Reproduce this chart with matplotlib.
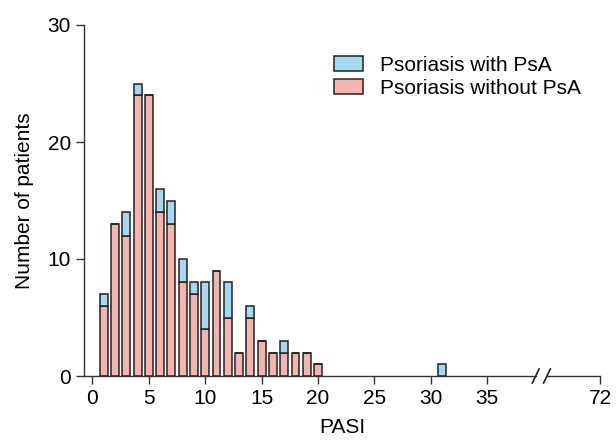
import matplotlib
matplotlib.use("Agg")
import matplotlib.pyplot as plt
import numpy as np

plt.rcParams['font.family'] = ['Liberation Sans', 'DejaVu Sans']

pasi = [1, 2, 3, 4, 5, 6, 7, 8, 9, 10, 11, 12, 13, 14, 15, 16, 17, 18, 19, 20, 31]
without_psa = [6, 13, 12, 24, 24, 14, 13, 8, 7, 4, 9, 5, 2, 5, 3, 2, 2, 2, 2, 1, 0]
with_psa = [1, 0, 2, 1, 0, 2, 2, 2, 1, 4, 0, 3, 0, 1, 0, 0, 1, 0, 0, 0, 1]
xtick_vals = [0, 5, 10, 15, 20, 25, 30, 35, 45]
xtick_labels = ['0', '5', '10', '15', '20', '25', '30', '35', '72']

blue = '#a6d8f2'
red = '#f5b4ae'
edge = '#222222'
FS = 15

fig = plt.figure(figsize=(6.16, 4.41), dpi=100)
ax = fig.add_axes([84/616, (441-376)/441, (600-84)/616, (376-25)/441])

ax.bar(pasi, without_psa, width=0.7, color=red, edgecolor=edge, linewidth=1.1,
       label='Psoriasis without PsA')
ax.bar(pasi, with_psa, width=0.7, bottom=without_psa, color=blue, edgecolor=edge,
       linewidth=1.1, label='Psoriasis with PsA')

xmin, xmax = -0.75, 45
ax.set_xlim(xmin, xmax)
ax.set_ylim(0, 30)
ax.set_yticks([0, 10, 20, 30])
ax.set_xticks(xtick_vals)
ax.set_xticklabels(xtick_labels)
ax.tick_params(axis='both', labelsize=FS, direction='out', length=5.5, width=1,
               color='#333333', pad=4)
for s in ['top', 'right', 'bottom']:
    ax.spines[s].set_visible(False)
ax.spines['left'].set_linewidth(1)
ax.spines['left'].set_color('#333333')

# broken x axis line
b1, b2 = 39.3, 40.3
ax.plot([xmin, b1], [0, 0], color='#333333', lw=1, clip_on=False, zorder=0.5)
ax.plot([b2, xmax], [0, 0], color='#333333', lw=1, clip_on=False, zorder=0.5)
for bx in [b1, b2]:
    ax.plot([bx - 0.3, bx + 0.3], [-0.6, 0.6], color='#222222', lw=1.2, clip_on=False)

ax.set_xlabel('PASI', fontsize=FS, labelpad=7)
ax.set_ylabel('Number of patients', fontsize=FS, labelpad=10)

handles, labels = ax.get_legend_handles_labels()
ax.legend(handles[::-1], labels[::-1], loc='upper left', bbox_to_anchor=(0.485, 0.913),
          frameon=False, fontsize=FS, handlelength=1.4, handleheight=0.7,
          handletextpad=0.8, labelspacing=0.2, borderpad=0, borderaxespad=0)

fig.savefig('out.png', dpi=100)
